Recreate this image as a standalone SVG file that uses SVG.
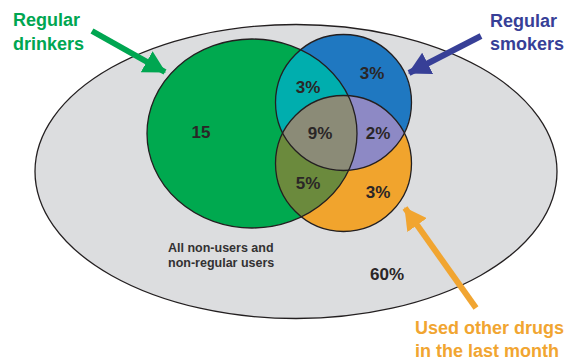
<svg xmlns="http://www.w3.org/2000/svg" width="574" height="360" viewBox="0 0 574 360">
  <style>
    .outline { fill: none; stroke: #231f20; stroke-width: 1.3; }
    .num { font-family: "Liberation Sans", Arial, sans-serif; font-weight: bold; font-size: 17px; fill: #2a2627; text-anchor: middle; }
    .note { font-family: "Liberation Sans", Arial, sans-serif; font-weight: bold; font-size: 12.5px; fill: #333132; }
    .label { font-family: "Liberation Sans", Arial, sans-serif; font-weight: bold; font-size: 18px; }
    .arrow { fill: none; stroke-width: 6; }
  </style>
  <defs>
    <clipPath id="clipDrink"><ellipse cx="252" cy="133.5" rx="105" ry="94.5"/></clipPath>
    <clipPath id="clipSmoke"><circle cx="343.5" cy="102.5" r="68"/></clipPath>
    <marker id="headGreen" viewBox="0 0 22 24" refX="21" refY="12" markerWidth="22" markerHeight="24" markerUnits="userSpaceOnUse" orient="auto">
      <path d="M0 0 L22 12 L0 24 Z" fill="#00a651"/>
    </marker>
    <marker id="headBlue" viewBox="0 0 22 24" refX="21" refY="12" markerWidth="22" markerHeight="24" markerUnits="userSpaceOnUse" orient="auto">
      <path d="M0 0 L22 12 L0 24 Z" fill="#373f97"/>
    </marker>
    <marker id="headOrange" viewBox="0 0 22 24" refX="21" refY="12" markerWidth="22" markerHeight="24" markerUnits="userSpaceOnUse" orient="auto">
      <path d="M0 0 L22 12 L0 24 Z" fill="#f1a531"/>
    </marker>
  </defs>

  <!-- everyone -->
  <g id="population">
    <ellipse cx="296" cy="171.5" rx="261" ry="147" fill="#dcdddf" stroke="#231f20" stroke-width="1.3"/>
    <text class="note" x="168" y="252">All non-users and</text>
    <text class="note" x="168" y="267">non-regular users</text>
    <text class="num" x="387" y="280">60%</text>
  </g>

  <!-- base sets -->
  <g id="drinkers">
    <ellipse cx="252" cy="133.5" rx="105" ry="94.5" fill="#00a94f"/>
  </g>
  <g id="smokers">
    <circle cx="343.5" cy="102.5" r="68" fill="#1f78c1"/>
  </g>
  <g id="drugs">
    <circle cx="343.5" cy="163.5" r="68" fill="#f1a42d"/>
  </g>

  <!-- overlaps -->
  <g id="drink-smoke">
    <circle cx="343.5" cy="102.5" r="68" fill="#00aeae" clip-path="url(#clipDrink)"/>
  </g>
  <g id="drink-drugs">
    <circle cx="343.5" cy="163.5" r="68" fill="#6b8a3d" clip-path="url(#clipDrink)"/>
  </g>
  <g id="smoke-drugs">
    <circle cx="343.5" cy="163.5" r="68" fill="#8d89c5" clip-path="url(#clipSmoke)"/>
  </g>
  <g id="all-three">
    <g clip-path="url(#clipDrink)">
      <circle cx="343.5" cy="163.5" r="68" fill="#8b8b77" clip-path="url(#clipSmoke)"/>
    </g>
  </g>

  <!-- outlines -->
  <ellipse class="outline" cx="252" cy="133.5" rx="105" ry="94.5"/>
  <circle class="outline" cx="343.5" cy="102.5" r="68"/>
  <circle class="outline" cx="343.5" cy="163.5" r="68"/>

  <!-- region values -->
  <g id="values">
    <text class="num" x="201" y="138">15</text>
    <text class="num" x="308" y="93">3%</text>
    <text class="num" x="372" y="79">3%</text>
    <text class="num" x="320" y="139">9%</text>
    <text class="num" x="378" y="139">2%</text>
    <text class="num" x="308" y="189">5%</text>
    <text class="num" x="378" y="198">3%</text>
  </g>

  <!-- pointer arrows -->
  <g id="connectors">
    <line class="arrow" x1="92" y1="31" x2="165" y2="72" stroke="#00a651" marker-end="url(#headGreen)"/>
    <line class="arrow" x1="481" y1="36" x2="409" y2="73" stroke="#373f97" marker-end="url(#headBlue)"/>
    <line class="arrow" x1="476" y1="308" x2="405" y2="208" stroke="#f1a531" marker-end="url(#headOrange)"/>
  </g>

  <!-- set labels -->
  <g id="label-drinkers">
    <text class="label" x="13" y="26" fill="#00a651">Regular</text>
    <text class="label" x="13" y="50" fill="#00a651">drinkers</text>
  </g>
  <g id="label-smokers">
    <text class="label" x="490" y="27" fill="#373f97">Regular</text>
    <text class="label" x="490" y="50" fill="#373f97">smokers</text>
  </g>
  <g id="label-drugs">
    <text class="label" x="415" y="334" fill="#f1a531">Used other drugs</text>
    <text class="label" x="415" y="357" fill="#f1a531">in the last month</text>
  </g>
</svg>
